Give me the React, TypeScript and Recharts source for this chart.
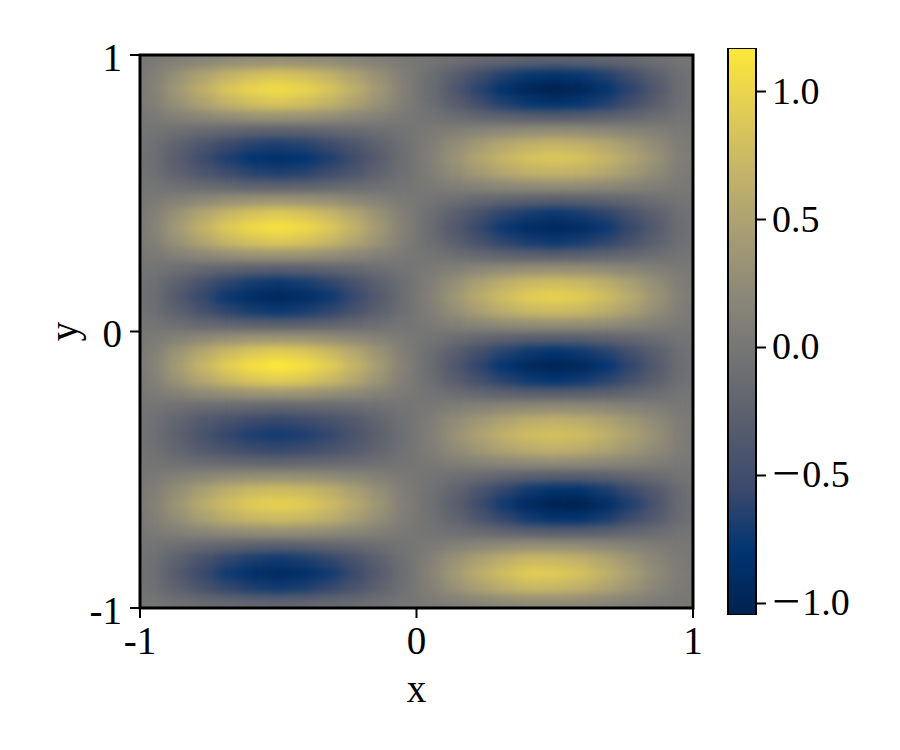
import React from "react";
import { Bar, BarChart, CartesianGrid, ReferenceArea, Scatter, ScatterChart, XAxis, YAxis } from "recharts";

const xCenters = [
  -0.955, -0.864, -0.773, -0.682, -0.591, -0.5, -0.409, -0.318, -0.227, -0.136, -0.045,
  0.045, 0.136, 0.227, 0.318, 0.409, 0.5, 0.591, 0.682, 0.773, 0.864, 0.955,
];
const yCenters = [
  0.975, 0.925, 0.875, 0.825, 0.775, 0.725, 0.675, 0.625, 0.575, 0.525,
  0.475, 0.425, 0.375, 0.325, 0.275, 0.225, 0.175, 0.125, 0.075, 0.025,
  -0.025, -0.075, -0.125, -0.175, -0.225, -0.275, -0.325, -0.375, -0.425, -0.475,
  -0.525, -0.575, -0.625, -0.675, -0.725, -0.775, -0.825, -0.875, -0.925, -0.975,
];

// in hundredths, one line per row from the top
const heat = [
  [3,12,19,26,30,32,30,26,19,12,3, -3,-11,-19,-25,-29,-31,-29,-25,-19,-11,-3],
  [9,31,51,68,80,86,80,68,51,31,9, -8,-30,-50,-67,-78,-83,-78,-67,-50,-30,-8],
  [11,39,64,86,101,107,101,86,64,39,11, -10,-37,-62,-83,-98,-104,-98,-83,-62,-37,-10],
  [9,31,51,68,80,86,80,68,51,31,9, -8,-30,-50,-67,-78,-83,-78,-67,-50,-30,-8],
  [3,12,19,26,30,32,30,26,19,12,3, -3,-11,-19,-25,-29,-31,-29,-25,-19,-11,-3],
  [-3,-9,-15,-20,-24,-26,-24,-20,-15,-9,-3, 3,10,16,21,25,26,25,21,16,10,3],
  [-7,-24,-41,-54,-64,-68,-64,-54,-41,-24,-7, 7,25,42,56,66,70,66,56,42,25,7],
  [-9,-31,-51,-68,-80,-85,-80,-68,-51,-31,-9, 9,32,53,70,83,88,83,70,53,32,9],
  [-7,-24,-41,-54,-64,-68,-64,-54,-41,-24,-7, 7,25,42,56,66,70,66,56,42,25,7],
  [-3,-9,-15,-20,-24,-26,-24,-20,-15,-9,-3, 3,10,16,21,25,26,25,21,16,10,3],
  [3,12,20,27,32,34,32,27,20,12,3, -3,-10,-17,-23,-27,-29,-27,-23,-17,-10,-3],
  [9,32,54,72,84,90,84,72,54,32,9, -8,-27,-46,-61,-71,-76,-71,-61,-46,-27,-8],
  [11,40,67,90,105,112,105,90,67,40,11, -10,-34,-57,-76,-89,-95,-89,-76,-57,-34,-10],
  [9,32,54,72,84,90,84,72,54,32,9, -8,-27,-46,-61,-71,-76,-71,-61,-46,-27,-8],
  [3,12,20,27,32,34,32,27,20,12,3, -3,-10,-17,-23,-27,-29,-27,-23,-17,-10,-3],
  [-3,-10,-17,-23,-27,-29,-27,-23,-17,-10,-3, 3,11,18,24,28,29,28,24,18,11,3],
  [-8,-27,-46,-61,-71,-76,-71,-61,-46,-27,-8, 8,28,47,63,74,78,74,63,47,28,8],
  [-10,-34,-57,-76,-89,-95,-89,-76,-57,-34,-10, 10,35,59,78,92,98,92,78,59,35,10],
  [-8,-27,-46,-61,-71,-76,-71,-61,-46,-27,-8, 8,28,47,63,74,78,74,63,47,28,8],
  [-3,-10,-17,-23,-27,-29,-27,-23,-17,-10,-3, 3,11,18,24,28,29,28,24,18,11,3],
  [4,13,21,28,33,35,33,28,21,13,4, -3,-11,-18,-24,-28,-30,-28,-24,-18,-11,-3],
  [9,34,56,75,88,94,88,75,56,34,9, -8,-29,-48,-64,-75,-80,-75,-64,-48,-29,-8],
  [12,42,70,94,110,117,110,94,70,42,12, -10,-36,-60,-80,-94,-100,-94,-80,-60,-36,-10],
  [9,34,56,75,88,94,88,75,56,34,9, -8,-29,-48,-64,-75,-80,-75,-64,-48,-29,-8],
  [4,13,21,28,33,35,33,28,21,13,4, -3,-11,-18,-24,-28,-30,-28,-24,-18,-11,-3],
  [-2,-8,-13,-17,-20,-22,-20,-17,-13,-8,-2, 2,9,15,20,23,25,23,20,15,9,2],
  [-6,-21,-35,-46,-54,-58,-54,-46,-35,-21,-6, 7,24,39,52,62,66,62,52,39,24,7],
  [-7,-26,-43,-58,-68,-72,-68,-58,-43,-26,-7, 8,30,49,66,77,82,77,66,49,30,8],
  [-6,-21,-35,-46,-54,-58,-54,-46,-35,-21,-6, 7,24,39,52,62,66,62,52,39,24,7],
  [-2,-8,-13,-17,-20,-22,-20,-17,-13,-8,-2, 2,9,15,20,23,25,23,20,15,9,2],
  [3,11,18,24,28,29,28,24,18,11,3, -2,-8,-15,-22,-28,-31,-31,-27,-20,-13,-4],
  [8,28,47,63,74,78,74,63,47,28,8, -5,-21,-41,-59,-74,-82,-82,-71,-54,-35,-12],
  [10,35,59,78,92,98,92,78,59,35,10, -6,-27,-52,-74,-93,-102,-103,-89,-68,-43,-14],
  [8,28,47,63,74,78,74,63,47,28,8, -5,-21,-41,-59,-74,-82,-82,-71,-54,-35,-12],
  [3,11,18,24,28,29,28,24,18,11,3, -2,-8,-15,-22,-28,-31,-31,-27,-20,-13,-4],
  [-3,-10,-17,-22,-26,-28,-26,-22,-17,-10,-3, 4,12,18,24,28,27,25,20,14,7,2],
  [-7,-26,-44,-59,-69,-74,-69,-59,-44,-26,-7, 10,31,49,63,74,73,66,53,37,19,4],
  [-9,-33,-55,-74,-86,-92,-86,-74,-55,-33,-9, 13,39,61,79,92,91,83,66,46,24,6],
  [-7,-26,-44,-59,-69,-74,-69,-59,-44,-26,-7, 10,31,49,63,74,73,66,53,37,19,4],
  [-3,-10,-17,-22,-26,-28,-26,-22,-17,-10,-3, 4,12,18,24,28,27,25,20,14,7,2],
];

const axisTicks = [-1, 0, 1];
const colorbarTicks = [-1, -0.5, 0, 0.5, 1];
const colorbarLabels = ["\u22121.0", "\u22120.5", "0.0", "0.5", "1.0"];
const colorMin = -1.045;
const colorMax = 1.17;
const cividis = [
  [0, 34, 78], [0, 52, 114], [59, 73, 108], [87, 93, 109], [112, 113, 115],
  [138, 134, 120], [165, 156, 116], [195, 179, 105], [225, 204, 85], [254, 232, 56],
];

const FONT = "'Liberation Serif', serif";

function toColor(v: number) {
  const t = Math.max(0, Math.min(1, (v - colorMin) / (colorMax - colorMin))) * (cividis.length - 1);
  const i = Math.min(Math.floor(t), cividis.length - 2);
  const f = t - i;
  const c = cividis[i].map((a, k) => Math.round(a + (cividis[i + 1][k] - a) * f));
  return `rgb(${c[0]},${c[1]},${c[2]})`;
}

const cells = heat.flatMap((row, r) =>
  row.map((v, c) => ({ x: xCenters[c], y: yCenters[r], value: v / 100 }))
);
const colorbarData = [{ name: "z", range: [colorMin, colorMax] }];

const HeatCell = (props: any) => {
  const { cx, cy, payload } = props;
  const w = 25.6;
  const h = 14.3;
  return <rect x={cx - w / 2} y={cy - h / 2} width={w} height={h} fill={toColor(payload.value)} />;
};

const tickStyle = { fontFamily: FONT, fontSize: 39, fill: "#000" };
const lineStyle = { stroke: "#000", strokeWidth: 2 };

// the reference has a long minus sign, so it gets a larger size than the digits
const ColorbarTick = (props: any) => {
  const { x, y, payload } = props;
  const label = colorbarLabels[colorbarTicks.indexOf(payload.value)];
  const negative = label.startsWith("\u2212");
  return (
    <text x={x} y={y} textAnchor="start" fontFamily={FONT} fontSize={38} fill="#000">
      {negative ? (
        <>
          <tspan fontSize={50} dy={15}>{"\u2212"}</tspan>
          <tspan dx={2} dy={-3}>{label.slice(1)}</tspan>
        </>
      ) : (
        <tspan dy={12}>{label}</tspan>
      )}
    </text>
  );
};

export default function App() {
  return (
    <div style={{ position: "absolute", left: 0, top: 0, width: 900, height: 750, background: "#fff" }}>
      <style>{`.recharts-scatter { filter: url(#heatBlur); }`}</style>
      <svg width={0} height={0} style={{ position: "absolute" }}>
        <defs>
          <filter id="heatBlur" x="-10%" y="-10%" width="120%" height="120%" colorInterpolationFilters="sRGB">
            <feGaussianBlur stdDeviation="8 4.5" />
          </filter>
          <linearGradient id="colorbarFill" x1="0" y1="1" x2="0" y2="0">
            {cividis.map((c, i) => (
              <stop key={i} offset={i / (cividis.length - 1)} stopColor={`rgb(${c[0]},${c[1]},${c[2]})`} />
            ))}
          </linearGradient>
        </defs>
      </svg>

      <div style={{ position: "absolute", left: 0, top: 0 }}>
        <ScatterChart width={900} height={750} margin={{ top: 55, right: 207, bottom: 0, left: 0 }}>
          <CartesianGrid horizontal={false} vertical={false} fill={toColor(0)} fillOpacity={1} />
          <XAxis
            type="number"
            dataKey="x"
            domain={[-1, 1]}
            ticks={axisTicks}
            allowDataOverflow
            height={142}
            interval={0}
            tick={tickStyle}
            tickLine={lineStyle}
            axisLine={lineStyle}
            tickSize={10}
            tickMargin={8}
            tickFormatter={(v: number) => String(v)}
            label={{ value: "x", position: "insideBottom", offset: 48, style: { ...tickStyle } }}
          />
          <YAxis
            type="number"
            dataKey="y"
            domain={[-1, 1]}
            ticks={axisTicks}
            allowDataOverflow
            width={140}
            interval={0}
            tick={{ ...tickStyle, dy: 2 }}
            tickLine={lineStyle}
            axisLine={lineStyle}
            tickSize={10}
            tickMargin={8}
            tickFormatter={(v: number) => String(v)}
            label={{ value: "y", angle: -90, position: "insideLeft", offset: 63, style: { ...tickStyle, textAnchor: "middle" } }}
          />
          <Scatter data={cells} isAnimationActive={false} shape={HeatCell} />
          <ReferenceArea x1={-1} x2={1} y1={-1} y2={1} fill="none" stroke="#000" strokeWidth={3} ifOverflow="visible" zIndex={1000} />
        </ScatterChart>
      </div>

      <div style={{ position: "absolute", left: 0, top: 0 }}>
        <BarChart
          width={900}
          height={750}
          data={colorbarData}
          barCategoryGap={0}
          margin={{ top: 48, right: 0, bottom: 135, left: 728 }}
        >
          <XAxis dataKey="name" hide />
          <YAxis
            orientation="right"
            type="number"
            domain={[colorMin, colorMax]}
            ticks={colorbarTicks}
            allowDataOverflow
            width={144}
            interval={0}
            tick={ColorbarTick}
            tickLine={lineStyle}
            axisLine={false}
            tickSize={10}
            tickMargin={6}
          />
          <Bar dataKey="range" fill="url(#colorbarFill)" stroke="#000" strokeWidth={2} isAnimationActive={false} />
        </BarChart>
      </div>
    </div>
  );
}
